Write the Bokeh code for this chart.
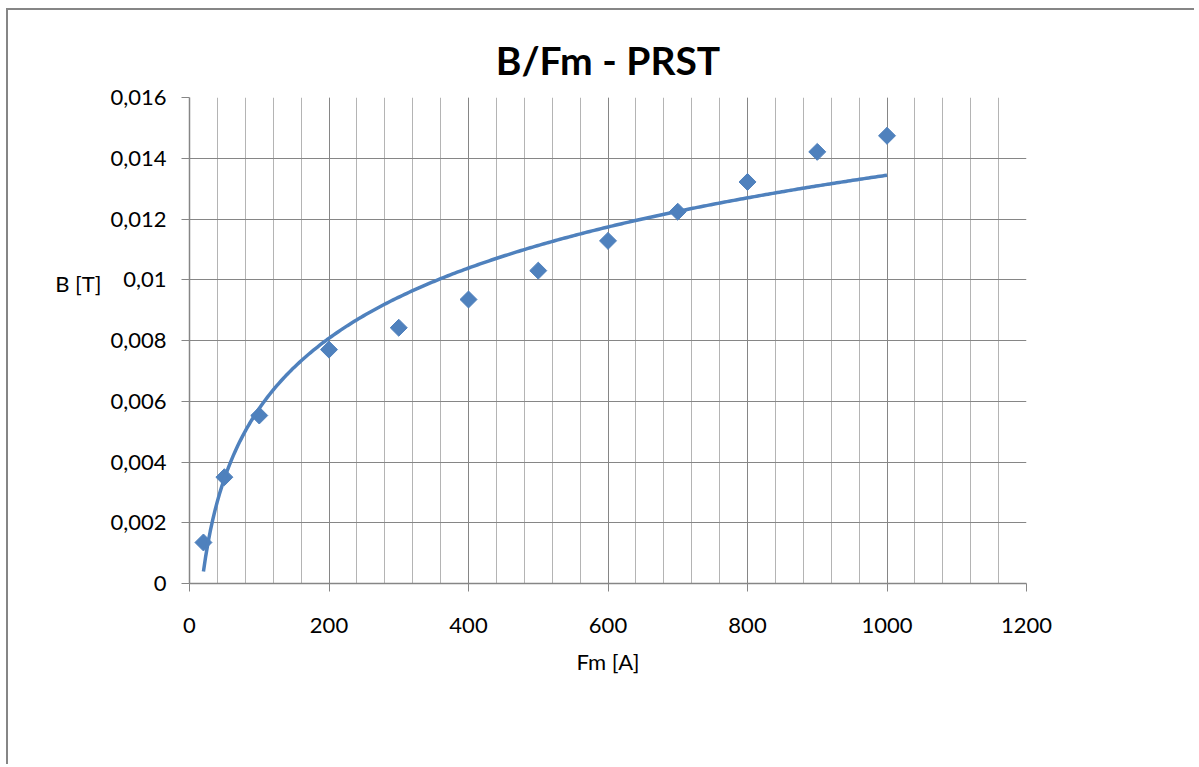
import numpy as np
from bokeh.plotting import figure
from bokeh.models import (FixedTicker, CustomJSTickFormatter, LinearAxis,
                          ColumnDataSource, Range1d)
from bokeh.embed import file_html
from bokeh.resources import INLINE

# ---- data ----
fm_values = [20, 50, 100, 200, 300, 400, 500, 600, 700, 800, 900, 1000]
b_values = [0.00135, 0.0035, 0.00553, 0.0077, 0.00842, 0.00935, 0.0103,
            0.01128, 0.01224, 0.01322, 0.01421, 0.01474]

x_tick_values = [0, 200, 400, 600, 800, 1000, 1200]
x_minor_values = list(range(0, 1201, 40))
y_tick_values = [0, 0.002, 0.004, 0.006, 0.008, 0.01, 0.012, 0.014, 0.016]
y_tick_labels = ["0", "0,002", "0,004", "0,006", "0,008", "0,01", "0,012", "0,014", "0,016"]

title_text = "B/Fm - PRST"
x_label = "Fm [A]"
y_label = "B [T]"
y_label_at = [0.00988]   # height at which the horizontal y-axis title sits

BLUE = "#4F81BD"
GRID_MAJOR = "#868686"
GRID_MINOR = "#B4B4B4"
FONT = "Lato"

# logarithmic trend line (least squares fit, like Excel's log trendline)
a, b = np.polyfit(np.log(fm_values), b_values, 1)
trend_x = np.linspace(min(fm_values), max(fm_values), 300)
trend_y = a * np.log(trend_x) + b

p = figure(width=1188, height=756, output_backend="svg", toolbar_location=None,
           x_range=Range1d(0, 1200), y_range=Range1d(0, 0.016),
           min_border_left=181, min_border_right=170, min_border_top=87, min_border_bottom=183)
p.styles = {"border-left": "2px solid #868686", "border-top": "2px solid #868686",
            "margin-left": "6px", "margin-top": "8px"}
p.outline_line_color = None
p.background_fill_color = "white"
p.border_fill_color = "white"

# title
p.title.text = title_text
p.title.text_font = FONT
p.title.text_font_size = "39px"
p.title.text_font_style = "bold"
p.title.text_color = "black"
p.title.align = "center"
p.title.standoff = 29

# axes
p.xaxis.ticker = FixedTicker(ticks=x_tick_values, minor_ticks=x_minor_values)
p.yaxis.ticker = FixedTicker(ticks=y_tick_values)
p.yaxis.formatter = CustomJSTickFormatter(args=dict(vals=y_tick_values, labs=y_tick_labels), code="""
let best = 0;
for (let i = 0; i < vals.length; i++) {
  if (Math.abs(vals[i] - tick) < Math.abs(vals[best] - tick)) best = i;
}
return labs[best];
""")
for ax in (p.xaxis, p.yaxis):
    ax.axis_line_color = GRID_MAJOR
    ax.axis_line_width = 1.5
    ax.major_tick_line_color = GRID_MAJOR
    ax.major_tick_out = 8
    ax.major_tick_in = 0
    ax.minor_tick_line_color = None
    ax.major_label_text_font = FONT
    ax.major_label_text_font_size = "22px"
    ax.major_label_text_color = "black"
p.xaxis.major_label_standoff = 26
p.yaxis.major_label_standoff = 15
p.xaxis.axis_label = x_label
p.xaxis.axis_label_text_font = FONT
p.xaxis.axis_label_text_font_size = "22px"
p.xaxis.axis_label_text_font_style = "normal"
p.xaxis.axis_label_text_color = "black"
p.xaxis.axis_label_standoff = 12

# horizontal y-axis title, drawn as the single label of an extra, bare left axis
label_axis = LinearAxis(ticker=FixedTicker(ticks=y_label_at),
                        formatter=CustomJSTickFormatter(args=dict(lab=y_label), code="return lab;"),
                        axis_line_color=None, major_tick_line_color=None,
                        minor_tick_line_color=None, major_tick_out=0, major_tick_in=0,
                        major_label_standoff=6, major_label_text_font=FONT,
                        major_label_text_font_size="22px", major_label_text_color="black")
p.add_layout(label_axis, "left")

# grids
p.xgrid.grid_line_color = GRID_MAJOR
p.xgrid.grid_line_width = 1
p.xgrid.minor_grid_line_color = GRID_MINOR
p.xgrid.minor_grid_line_width = 1
p.ygrid.grid_line_color = GRID_MAJOR
p.ygrid.grid_line_width = 1

# data
src = ColumnDataSource(dict(x=fm_values, y=b_values))
p.scatter("x", "y", source=src, marker="square", angle=np.pi / 4, size=12,
          fill_color=BLUE, line_color=BLUE)
p.line(trend_x, trend_y, line_color=BLUE, line_width=3.5)

open("out.html", "w").write(file_html(p, INLINE))
